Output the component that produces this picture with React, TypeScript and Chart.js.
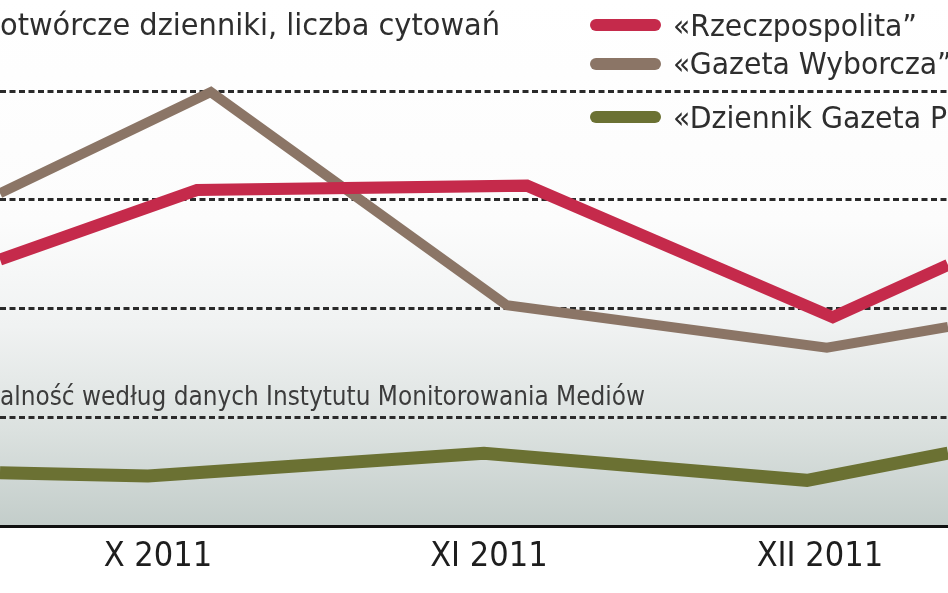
import React, { useEffect, useRef } from "react";
import { Chart, registerables } from "chart.js";

Chart.register(...registerables);

// ---- data ----
const monthLabels = ["X 2011", "XI 2011", "XII 2011"];
const monthTicks = [0, 1, 2];
const seriesNames = ["«Rzeczpospolita”", "«Gazeta Wyborcza”", "«Dziennik Gazeta Prawna”"];
const seriesColors = ["#c52a4b", "#8b7566", "#6b7133"];
const rzeczX = [-0.477, 0.118, 1.115, 2.039, 2.387];
const rzeczY = [245, 309, 313, 192, 240];
const wyborczaX = [-0.477, 0.16, 1.054, 2.021, 2.387];
const wyborczaY = [306, 399, 203, 164, 183];
const dgpX = [-0.477, -0.03, 0.985, 1.961, 2.387];
const dgpY = [49, 46, 67, 42, 67];
const gridValues = [100, 200, 300, 400];
const titleText = "Opiniotwórcze dzienniki, liczba cytowań";
const titleVisible = "otwórcze dzienniki, liczba cytowań";
const noteText = "Cytowalność według danych Instytutu Monitorowania Mediów";
const noteVisible = "alność według danych Instytutu Monitorowania Mediów";

const X_MIN = -0.477;
const X_MAX = 2.387;
const Y_MIN = -61.6;
const Y_MAX = 483.7;

const FONT = "'DejaVu Sans Condensed', 'DejaVu Sans', sans-serif";

function toPoints(xs: number[], ys: number[]) {
  return xs.map((x, i) => ({ x, y: ys[i] }));
}

function drawScaledText(
  ctx: CanvasRenderingContext2D,
  full: string,
  visible: string,
  anchorX: number,
  baseline: number,
  visibleWidth: number,
  align: CanvasTextAlign
) {
  const s = visibleWidth / ctx.measureText(visible).width;
  ctx.save();
  ctx.translate(anchorX, baseline);
  ctx.scale(s, 1);
  ctx.textAlign = align;
  ctx.textBaseline = "alphabetic";
  ctx.fillText(full, 0, 0);
  ctx.restore();
  return s;
}

const backgroundPlugin = {
  id: "bgPlugin",
  beforeDraw(chart: any) {
    const { ctx, width, height } = chart;
    const y0 = chart.scales.y.getPixelForValue(0);
    ctx.save();
    ctx.fillStyle = "#ffffff";
    ctx.fillRect(0, 0, width, height);
    const g = ctx.createLinearGradient(0, 0, 0, y0);
    g.addColorStop(0, "#ffffff");
    g.addColorStop(0.42, "#fcfcfc");
    g.addColorStop(0.62, "#f0f2f2");
    g.addColorStop(0.82, "#dbe1df");
    g.addColorStop(1, "#c3cdca");
    ctx.fillStyle = g;
    ctx.fillRect(0, 0, width, y0);

    ctx.fillStyle = "#2e2e2e";
    ctx.font = `31px ${FONT}`;
    drawScaledText(ctx, titleText, titleVisible, 500, 35, 500, "right");

    ctx.fillStyle = "#3c3c3c";
    ctx.font = `26px ${FONT}`;
    drawScaledText(ctx, noteText, noteVisible, 645, 405, 645, "right");
    ctx.restore();
  },
};

const legendPlugin = {
  id: "legendPlugin",
  afterDraw(chart: any) {
    const { ctx } = chart;
    const swY = [25, 64, 117];
    const baseY = [36, 74, 128];
    ctx.save();
    ctx.font = `30px ${FONT}`;
    const s = 244 / ctx.measureText(seriesNames[0]).width;
    chart.data.datasets.forEach((ds: any, i: number) => {
      ctx.strokeStyle = ds.borderColor;
      ctx.lineWidth = 12;
      ctx.lineCap = "round";
      ctx.beginPath();
      ctx.moveTo(596, swY[i]);
      ctx.lineTo(655, swY[i]);
      ctx.stroke();
      ctx.fillStyle = "#2e2e2e";
      ctx.save();
      ctx.translate(673, baseY[i]);
      ctx.scale(s, 1);
      ctx.textAlign = "left";
      ctx.textBaseline = "alphabetic";
      ctx.fillText(ds.label, 0, 0);
      ctx.restore();
    });
    ctx.restore();
  },
};

export default function App() {
  const ref = useRef<HTMLCanvasElement>(null);

  useEffect(() => {
    if (!ref.current) return;
    const chart = new Chart(ref.current, {
      type: "line",
      data: {
        datasets: [
          {
            label: seriesNames[0],
            data: toPoints(rzeczX, rzeczY),
            borderColor: seriesColors[0],
            borderWidth: 12,
          },
          {
            label: seriesNames[1],
            data: toPoints(wyborczaX, wyborczaY),
            borderColor: seriesColors[1],
            borderWidth: 10,
          },
          {
            label: seriesNames[2],
            data: toPoints(dgpX, dgpY),
            borderColor: seriesColors[2],
            borderWidth: 13,
          },
        ],
      },
      options: {
        responsive: false,
        animation: false,
        layout: { padding: 0 },
        elements: {
          point: { radius: 0, hoverRadius: 0 },
          line: { tension: 0, borderJoinStyle: "miter", borderCapStyle: "butt", fill: false },
        },
        plugins: {
          legend: { display: false },
          tooltip: { enabled: false },
        },
        scales: {
          x: {
            type: "linear",
            min: X_MIN,
            max: X_MAX,
            position: { y: 0 } as any,
            grid: { display: false, drawTicks: false },
            border: { display: true, color: "#111111", width: 3 },
            afterBuildTicks: (scale: any) => {
              scale.ticks = monthTicks.map((v) => ({ value: v }));
            },
            ticks: {
              autoSkip: false,
              maxRotation: 0,
              padding: 11,
              color: "#1e1e1e",
              font: { family: FONT, size: 34 },
              callback: (value: any) => monthLabels[monthTicks.indexOf(Number(value))] ?? "",
            },
          },
          y: {
            type: "linear",
            min: Y_MIN,
            max: Y_MAX,
            afterBuildTicks: (scale: any) => {
              scale.ticks = gridValues.map((v) => ({ value: v }));
            },
            ticks: { display: false },
            grid: { color: "#2a2a2a", lineWidth: 3, drawTicks: false },
            border: { display: false, dash: [6, 3.5] },
          },
        },
      },
      plugins: [backgroundPlugin, legendPlugin],
    });
    return () => chart.destroy();
  }, []);

  return (
    <div style={{ position: "fixed", left: 0, top: 0, width: 948, height: 593, overflow: "hidden", background: "#fff" }}>
      <canvas ref={ref} width={948} height={593} style={{ display: "block" }} />
    </div>
  );
}
